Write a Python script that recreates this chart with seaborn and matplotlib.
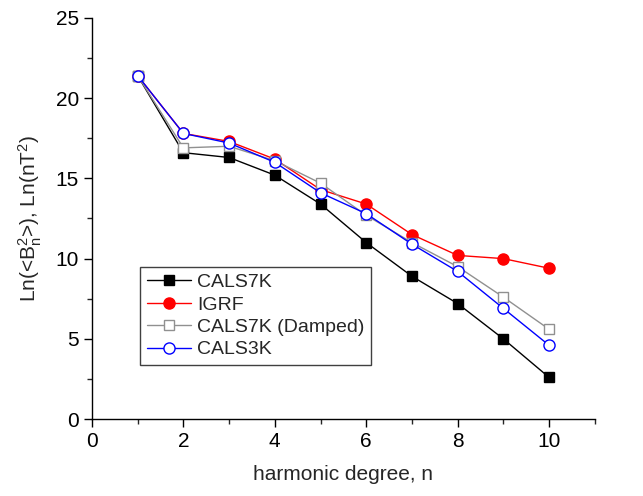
import numpy as np
import pandas as pd
import matplotlib
matplotlib.use("Agg")
import matplotlib.pyplot as plt
import seaborn as sns
from matplotlib.ticker import MultipleLocator

# harmonic degree
degree = [1, 2, 3, 4, 5, 6, 7, 8, 9, 10]

# Ln power spectra
cals7k = [21.4, 16.6, 16.3, 15.2, 13.4, 11.0, 8.9, 7.2, 5.0, 2.6]
igrf = [21.4, 17.8, 17.3, 16.2, 14.3, 13.4, 11.5, 10.2, 10.0, 9.4]
cals7k_damped = [21.4, 16.9, 17.0, 16.1, 14.7, 12.7, 11.0, 9.5, 7.6, 5.6]
cals3k = [21.4, 17.8, 17.2, 16.0, 14.1, 12.8, 10.9, 9.2, 6.9, 4.6]

series_names = ["CALS7K", "IGRF", "CALS7K (Damped)", "CALS3K"]
series_values = [cals7k, igrf, cals7k_damped, cals3k]

sns.set_style("ticks")
plt.rcParams['font.family'] = ['Liberation Sans', 'DejaVu Sans']
plt.rcParams['mathtext.fontset'] = 'custom'
plt.rcParams['mathtext.rm'] = 'Liberation Sans'
plt.rcParams['mathtext.it'] = 'Liberation Sans'

fig = plt.figure(figsize=(6.43, 4.96), dpi=100)
ax = fig.add_axes([0.143, 0.155, 0.782, 0.809])

styles = {
    "CALS7K": dict(color="black", marker="s", markerfacecolor="black",
                   markeredgecolor="black"),
    "IGRF": dict(color="red", marker="o", markerfacecolor="red",
                 markeredgecolor="red"),
    "CALS7K (Damped)": dict(color="#909090", marker="s", markerfacecolor="white",
                            markeredgecolor="#909090"),
    "CALS3K": dict(color="blue", marker="o", markerfacecolor="white",
                   markeredgecolor="blue"),
}

for name, vals in zip(series_names, series_values):
    df = pd.DataFrame({"n": degree, "val": vals})
    st = styles[name]
    sns.lineplot(data=df, x="n", y="val", ax=ax, label=name,
                 color=st["color"], marker=st["marker"],
                 markerfacecolor=st["markerfacecolor"],
                 markeredgecolor=st["markeredgecolor"],
                 markersize=8 if st["marker"] == "o" else 7,
                 markeredgewidth=1.0, linewidth=1.0)

ax.set_xlim(0, 11)
ax.set_ylim(0, 25)
ax.xaxis.set_major_locator(MultipleLocator(2))
ax.xaxis.set_minor_locator(MultipleLocator(1))
ax.yaxis.set_major_locator(MultipleLocator(5))
ax.yaxis.set_minor_locator(MultipleLocator(2.5))
ax.tick_params(which="major", direction="out", length=6, width=1,
               labelsize=15, colors="black")
ax.tick_params(which="minor", direction="out", length=3.5, width=1)
for s in ["top", "right"]:
    ax.spines[s].set_visible(False)
for s in ["left", "bottom"]:
    ax.spines[s].set_linewidth(1.0)
    ax.spines[s].set_color("black")

ax.set_xlabel("harmonic degree, n", fontsize=15, labelpad=10)
ax.set_ylabel(r"Ln(<B$_n^2$>), Ln(nT$^2$)", fontsize=15, labelpad=8)

leg = ax.legend(loc="upper left", bbox_to_anchor=(0.095, 0.38), fontsize=14,
                frameon=True, fancybox=False, edgecolor="#404040",
                framealpha=1, handlelength=2.3, handletextpad=0.3,
                borderpad=0.35, labelspacing=0.25, borderaxespad=0)
leg.get_frame().set_linewidth(1.0)

fig.savefig("out.png", dpi=100)
